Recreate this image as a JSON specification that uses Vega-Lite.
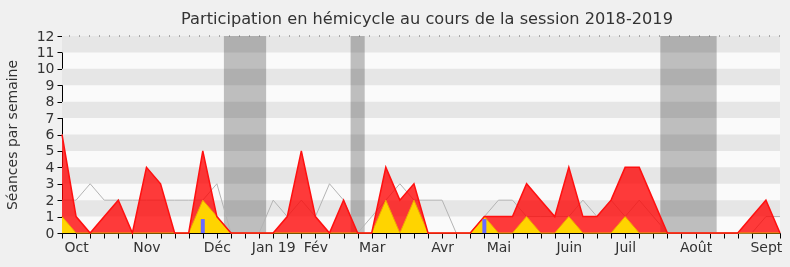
{
  "$schema": "https://vega.github.io/schema/vega-lite/v6.json",
  "width": 718,
  "height": 197,
  "autosize": "none",
  "padding": {"left": 62, "top": 36, "right": 10, "bottom": 34},
  "background": "#f0f0f0",
  "title": {"text": "Participation en hémicycle au cours de la session 2018-2019", "font": "DejaVu Sans", "fontSize": 16.2, "fontWeight": "normal", "color": "#333333", "offset": 2, "anchor": "middle", "dx": 6},
  "config": {
    "view": {"stroke": null, "fill": "#fafafa"},
    "font": "DejaVu Sans",
    "axisX": {"zindex": 1, "labelOverlap": false, "labelFontSize": 14, "labelColor": "#333333", "tickSize": 5, "tickColor": "#000000", "domainColor": "#000000", "grid": false, "labelPadding": 2, "labelFlush": false},
    "axisY": {"zindex": 1, "labelOverlap": false, "titleFontSize": 14, "titleFontWeight": "normal", "titleColor": "#333333", "titlePadding": 17, "labelFontSize": 14, "labelColor": "#333333", "tickSize": 5, "tickColor": "#000000", "domainColor": "#000000", "grid": false, "labelPadding": 3}
  },
  "datasets": {
    "weeks": [
      {"week": 0, "pres": 6, "inter": 1, "med": 2},
      {"week": 1, "pres": 1, "inter": 0, "med": 2},
      {"week": 2, "pres": 0, "inter": 0, "med": 3},
      {"week": 3, "pres": 1, "inter": 0, "med": 2},
      {"week": 4, "pres": 2, "inter": 0, "med": 2},
      {"week": 5, "pres": 0, "inter": 0, "med": 2},
      {"week": 6, "pres": 4, "inter": 0, "med": 2},
      {"week": 7, "pres": 3, "inter": 0, "med": 2},
      {"week": 8, "pres": 0, "inter": 0, "med": 2},
      {"week": 9, "pres": 0, "inter": 0, "med": 2},
      {"week": 10, "pres": 5, "inter": 2, "med": 2},
      {"week": 11, "pres": 1, "inter": 1, "med": 3},
      {"week": 12, "pres": 0, "inter": 0, "med": 0},
      {"week": 13, "pres": 0, "inter": 0, "med": 0},
      {"week": 14, "pres": 0, "inter": 0, "med": 0},
      {"week": 15, "pres": 0, "inter": 0, "med": 2},
      {"week": 16, "pres": 1, "inter": 0, "med": 1},
      {"week": 17, "pres": 5, "inter": 0, "med": 2},
      {"week": 18, "pres": 1, "inter": 0, "med": 1},
      {"week": 19, "pres": 0, "inter": 0, "med": 3},
      {"week": 20, "pres": 2, "inter": 0, "med": 2},
      {"week": 21, "pres": 0, "inter": 0, "med": 0},
      {"week": 22, "pres": 0, "inter": 0, "med": 1},
      {"week": 23, "pres": 4, "inter": 2, "med": 2},
      {"week": 24, "pres": 2, "inter": 0, "med": 3},
      {"week": 25, "pres": 3, "inter": 2, "med": 2},
      {"week": 26, "pres": 0, "inter": 0, "med": 2},
      {"week": 27, "pres": 0, "inter": 0, "med": 2},
      {"week": 28, "pres": 0, "inter": 0, "med": 0},
      {"week": 29, "pres": 0, "inter": 0, "med": 0},
      {"week": 30, "pres": 1, "inter": 1, "med": 1},
      {"week": 31, "pres": 1, "inter": 0, "med": 2},
      {"week": 32, "pres": 1, "inter": 0, "med": 2},
      {"week": 33, "pres": 3, "inter": 1, "med": 1},
      {"week": 34, "pres": 2, "inter": 0, "med": 1},
      {"week": 35, "pres": 1, "inter": 0, "med": 1},
      {"week": 36, "pres": 4, "inter": 1, "med": 1},
      {"week": 37, "pres": 1, "inter": 0, "med": 2},
      {"week": 38, "pres": 1, "inter": 0, "med": 1},
      {"week": 39, "pres": 2, "inter": 0, "med": 2},
      {"week": 40, "pres": 4, "inter": 1, "med": 1},
      {"week": 41, "pres": 4, "inter": 0, "med": 2},
      {"week": 42, "pres": 2, "inter": 0, "med": 1},
      {"week": 43, "pres": 0, "inter": 0, "med": 0},
      {"week": 44, "pres": 0, "inter": 0, "med": 0},
      {"week": 45, "pres": 0, "inter": 0, "med": 0},
      {"week": 46, "pres": 0, "inter": 0, "med": 0},
      {"week": 47, "pres": 0, "inter": 0, "med": 0},
      {"week": 48, "pres": 0, "inter": 0, "med": 0},
      {"week": 49, "pres": 1, "inter": 0, "med": 0},
      {"week": 50, "pres": 2, "inter": 0, "med": 1},
      {"week": 51, "pres": 0, "inter": 0, "med": 1}
    ],
    "bands": [
      {"y0": 1, "y1": 2}, {"y0": 3, "y1": 4}, {"y0": 5, "y1": 6},
      {"y0": 7, "y1": 8}, {"y0": 9, "y1": 10}, {"y0": 11, "y1": 12}
    ],
    "vac": [
      {"s": 11.5, "e": 14.5},
      {"s": 20.5, "e": 21.5},
      {"s": 42.5, "e": 46.5}
    ],
    "questions": [
      {"week": 10, "n": 0.85},
      {"week": 30, "n": 0.85}
    ],
    "top": [{"v": 12}]
  },
  "layer": [
    {
      "data": {"name": "bands"},
      "mark": {"type": "rect", "color": "#e6e6e6"},
      "encoding": {
        "y": {"field": "y0", "type": "quantitative",
          "scale": {"domain": [0, 12], "nice": false, "zero": true},
          "axis": {"values": [0,1,2,3,4,5,6,7,8,9,10,11,12], "title": "Séances par semaine"}},
        "y2": {"field": "y1"}
      }
    },
    {
      "data": {"name": "vac"},
      "mark": {"type": "rect", "color": "#c2c2c2", "blend": "multiply"},
      "encoding": {
        "x": {"field": "s", "type": "quantitative",
          "scale": {"domain": [0, 51], "nice": false, "zero": false, "padding": 0},
          "axis": {"values": [0,1,2,3,4,5,6,7,8,9,10,11,12,13,14,15,16,17,18,19,20,21,22,23,24,25,26,27,28,29,30,31,32,33,34,35,36,37,38,39,40,41,42,43,44,45,46,47,48,49,50,51], "title": null, "labelExpr": "datum.value==1?'Oct':datum.value==6?'Nov':datum.value==11?'Déc':datum.value==15?'Jan 19':datum.value==18?'Fév':datum.value==22?'Mar':datum.value==27?'Avr':datum.value==31?'Mai':datum.value==36?'Juin':datum.value==40?'Juil':datum.value==45?'Août':datum.value==50?'Sept':''"}},
        "x2": {"field": "e"},
        "y": {"datum": 0, "type": "quantitative", "axis": {"values": [0,1,2,3,4,5,6,7,8,9,10,11,12], "title": "Séances par semaine"}},
        "y2": {"datum": 12}
      }
    },
    {
      "data": {"name": "top"},
      "mark": {"type": "rule", "color": "#666666", "strokeDash": [1, 9], "strokeWidth": 1},
      "encoding": {"y": {"field": "v", "type": "quantitative", "axis": {"values": [0,1,2,3,4,5,6,7,8,9,10,11,12], "title": "Séances par semaine"}}}
    },
    {
      "data": {"name": "weeks"},
      "mark": {"type": "line", "color": "#b4b4b4", "strokeWidth": 1},
      "encoding": {
        "x": {"field": "week", "type": "quantitative", "axis": {"values": [0,1,2,3,4,5,6,7,8,9,10,11,12,13,14,15,16,17,18,19,20,21,22,23,24,25,26,27,28,29,30,31,32,33,34,35,36,37,38,39,40,41,42,43,44,45,46,47,48,49,50,51], "title": null, "labelExpr": "datum.value==1?'Oct':datum.value==6?'Nov':datum.value==11?'Déc':datum.value==15?'Jan 19':datum.value==18?'Fév':datum.value==22?'Mar':datum.value==27?'Avr':datum.value==31?'Mai':datum.value==36?'Juin':datum.value==40?'Juil':datum.value==45?'Août':datum.value==50?'Sept':''"}},
        "y": {"field": "med", "type": "quantitative", "axis": {"values": [0,1,2,3,4,5,6,7,8,9,10,11,12], "title": "Séances par semaine"}}
      }
    },
    {
      "data": {"name": "weeks"},
      "mark": {"type": "area", "color": "#ff0000", "opacity": 0.77},
      "encoding": {
        "x": {"field": "week", "type": "quantitative", "axis": {"values": [0,1,2,3,4,5,6,7,8,9,10,11,12,13,14,15,16,17,18,19,20,21,22,23,24,25,26,27,28,29,30,31,32,33,34,35,36,37,38,39,40,41,42,43,44,45,46,47,48,49,50,51], "title": null, "labelExpr": "datum.value==1?'Oct':datum.value==6?'Nov':datum.value==11?'Déc':datum.value==15?'Jan 19':datum.value==18?'Fév':datum.value==22?'Mar':datum.value==27?'Avr':datum.value==31?'Mai':datum.value==36?'Juin':datum.value==40?'Juil':datum.value==45?'Août':datum.value==50?'Sept':''"}},
        "y": {"field": "pres", "type": "quantitative", "axis": {"values": [0,1,2,3,4,5,6,7,8,9,10,11,12], "title": "Séances par semaine"}}
      }
    },
    {
      "data": {"name": "weeks"},
      "mark": {"type": "area", "color": "#ffd400"},
      "encoding": {
        "x": {"field": "week", "type": "quantitative", "axis": {"values": [0,1,2,3,4,5,6,7,8,9,10,11,12,13,14,15,16,17,18,19,20,21,22,23,24,25,26,27,28,29,30,31,32,33,34,35,36,37,38,39,40,41,42,43,44,45,46,47,48,49,50,51], "title": null, "labelExpr": "datum.value==1?'Oct':datum.value==6?'Nov':datum.value==11?'Déc':datum.value==15?'Jan 19':datum.value==18?'Fév':datum.value==22?'Mar':datum.value==27?'Avr':datum.value==31?'Mai':datum.value==36?'Juin':datum.value==40?'Juil':datum.value==45?'Août':datum.value==50?'Sept':''"}},
        "y": {"field": "inter", "type": "quantitative", "axis": {"values": [0,1,2,3,4,5,6,7,8,9,10,11,12], "title": "Séances par semaine"}}
      }
    },
    {
      "data": {"name": "weeks"},
      "mark": {"type": "line", "color": "#f0a800", "strokeWidth": 1},
      "encoding": {
        "x": {"field": "week", "type": "quantitative", "axis": {"values": [0,1,2,3,4,5,6,7,8,9,10,11,12,13,14,15,16,17,18,19,20,21,22,23,24,25,26,27,28,29,30,31,32,33,34,35,36,37,38,39,40,41,42,43,44,45,46,47,48,49,50,51], "title": null, "labelExpr": "datum.value==1?'Oct':datum.value==6?'Nov':datum.value==11?'Déc':datum.value==15?'Jan 19':datum.value==18?'Fév':datum.value==22?'Mar':datum.value==27?'Avr':datum.value==31?'Mai':datum.value==36?'Juin':datum.value==40?'Juil':datum.value==45?'Août':datum.value==50?'Sept':''"}},
        "y": {"field": "inter", "type": "quantitative", "axis": {"values": [0,1,2,3,4,5,6,7,8,9,10,11,12], "title": "Séances par semaine"}}
      }
    },
    {
      "data": {"name": "weeks"},
      "mark": {"type": "line", "color": "#ff1010", "strokeWidth": 1.5},
      "encoding": {
        "x": {"field": "week", "type": "quantitative", "axis": {"values": [0,1,2,3,4,5,6,7,8,9,10,11,12,13,14,15,16,17,18,19,20,21,22,23,24,25,26,27,28,29,30,31,32,33,34,35,36,37,38,39,40,41,42,43,44,45,46,47,48,49,50,51], "title": null, "labelExpr": "datum.value==1?'Oct':datum.value==6?'Nov':datum.value==11?'Déc':datum.value==15?'Jan 19':datum.value==18?'Fév':datum.value==22?'Mar':datum.value==27?'Avr':datum.value==31?'Mai':datum.value==36?'Juin':datum.value==40?'Juil':datum.value==45?'Août':datum.value==50?'Sept':''"}},
        "y": {"field": "pres", "type": "quantitative", "axis": {"values": [0,1,2,3,4,5,6,7,8,9,10,11,12], "title": "Séances par semaine"}}
      }
    },
    {
      "data": {"name": "questions"},
      "mark": {"type": "bar", "color": "#6a6aff", "size": 4},
      "encoding": {
        "x": {"field": "week", "type": "quantitative", "axis": {"values": [0,1,2,3,4,5,6,7,8,9,10,11,12,13,14,15,16,17,18,19,20,21,22,23,24,25,26,27,28,29,30,31,32,33,34,35,36,37,38,39,40,41,42,43,44,45,46,47,48,49,50,51], "title": null, "labelExpr": "datum.value==1?'Oct':datum.value==6?'Nov':datum.value==11?'Déc':datum.value==15?'Jan 19':datum.value==18?'Fév':datum.value==22?'Mar':datum.value==27?'Avr':datum.value==31?'Mai':datum.value==36?'Juin':datum.value==40?'Juil':datum.value==45?'Août':datum.value==50?'Sept':''"}},
        "y": {"field": "n", "type": "quantitative", "axis": {"values": [0,1,2,3,4,5,6,7,8,9,10,11,12], "title": "Séances par semaine"}}
      }
    }
  ]
}
